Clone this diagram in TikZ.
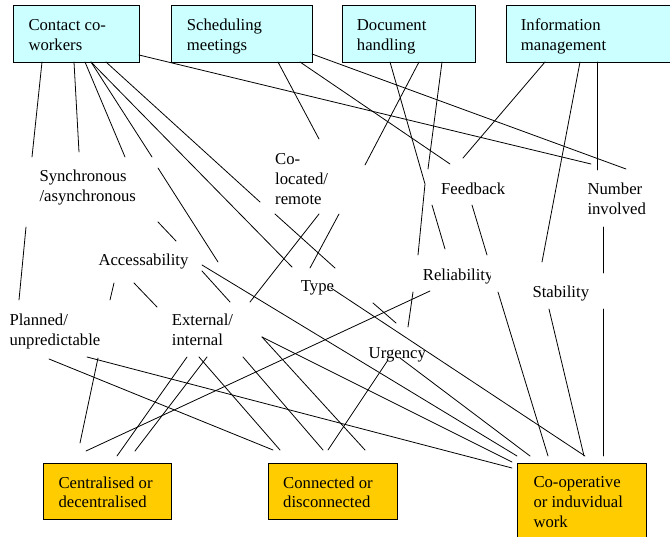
\documentclass[tikz,border=0pt]{standalone}
\usepackage{fontspec}
\setmainfont{Liberation Serif}
\newfontfamily\diagfont{Liberation Serif}
\usetikzlibrary{shadows}
\definecolor{topfill}{HTML}{CCFFFF}
\definecolor{botfill}{HTML}{FFCC00}
\newcommand\labtext[1]{\begin{tabular}[t]{@{}l@{}}#1\end{tabular}}
\newcommand\linkseg[3]{\coordinate (#1-a) at (#2); \coordinate (#1-b) at (#3); \draw[link] (#1-a) -- (#1-b);}
\begin{document}
\begin{tikzpicture}[x=1pt, y=-1pt,
  link/.style={line width=0.8pt, line cap=round},
  boxbase/.style={draw=black, line width=0.8pt, inner sep=0pt, anchor=north west,
    drop shadow={shadow xshift=1pt, shadow yshift=-1pt, fill=black!55, opacity=1}},
  topbox/.style={boxbase, fill=topfill, minimum height=57pt},
  botbox/.style={boxbase, fill=botfill},
  lab/.style={inner sep=0pt, anchor=base west, font=\diagfont\fontsize{16.7}{19.6}\selectfont}]
\useasboundingbox (0,0) rectangle (670,537);
% top boxes
\node[topbox, minimum width=126pt] (contact) at (13,5) {};
\node[topbox, minimum width=141pt] (sched) at (171,5) {};
\node[topbox, minimum width=133pt] (doc) at (342,5) {};
\node[topbox, minimum width=170pt] (info) at (506,5) {};
\node[lab] (contact-t) at ([shift={(15.3,25.7)}]contact.north west) {\labtext{Contact co-\\workers}};
\node[lab] (sched-t) at ([shift={(15.7,25.7)}]sched.north west) {\labtext{Scheduling\\meetings}};
\node[lab] (doc-t) at ([shift={(14.7,25.5)}]doc.north west) {\labtext{Document\\handling}};
\node[lab] (info-t) at ([shift={(14.7,25.5)}]info.north west) {\labtext{Information\\management}};
% bottom boxes
\node[botbox, minimum width=128pt, minimum height=56pt] (cent) at (43,463) {};
\node[botbox, minimum width=129pt, minimum height=56pt] (conn) at (268,463) {};
\node[botbox, minimum width=129pt, minimum height=90pt] (coop) at (517,463) {};
\node[lab] (cent-t) at ([shift={(15.3,25.3)}]cent.north west) {\labtext{Centralised or\\decentralised}};
\node[lab] (conn-t) at ([shift={(15,25.3)}]conn.north west) {\labtext{Connected or\\disconnected}};
\node[lab] (coop-t) at ([shift={(16.3,25)}]coop.north west) {\labtext{Co-operative\\or induvidual\\work}};
% free labels
\node[lab] (sync) at (39.3,182) {\labtext{Synchronous\\/asynchronous}};
\node[lab] (acc) at (98.3,266) {Accessability};
\node[lab] (plan) at (9.3,326) {\labtext{Planned/\\unpredictable}};
\node[lab] (ext) at (171.7,326) {\labtext{External/\\internal}};
\node[lab] (coloc) at (275,165) {\labtext{Co-\\located/\\remote}};
\node[lab] (type) at (300.7,292) {Type};
\node[lab] (feed) at (441,195) {Feedback};
\node[lab] (numb) at (587.3,195) {\labtext{Number\\involved}};
\begin{scope}
\clip (400,250) rectangle (490,300);
\node[lab] (rel) at (422.7,281) {Reliability};
\end{scope}
\node[lab] (stab) at (532.3,297.7) {Stability};
\node[lab] (urg) at (368.5,358.5) {Urgency};
% connectors from Contact co-workers
\linkseg{c1}{42,62}{32,157}
\linkseg{c2}{74,62}{79,152}
\linkseg{c3}{85,62}{125,157}
\linkseg{c4}{91,62}{152,157}
\linkseg{c5}{158,168}{218,262}
\linkseg{c6}{91,62}{292,267}
\linkseg{c7}{106,62}{260,202}
\linkseg{c8}{275,214}{335,268}
\linkseg{c9}{373,303}{396,323}
\linkseg{c10}{139,55}{591,164}
% Scheduling meetings
\linkseg{s1}{312,54}{626,169}
\linkseg{s2}{300,62}{450,164}
\linkseg{s3}{278,62}{319,139}
% Document handling
\coordinate (d1-a) at (390,62); \coordinate (d1-m) at (425,184); \coordinate (d1-b) at (418,255);
\draw[link] (d1-a) -- (d1-m) -- (d1-b);
\linkseg{d2}{419,62}{365,165}
\linkseg{d3}{339,214}{310,268}
\linkseg{d4}{442,62}{428,169}
% Information management
\linkseg{i1}{545,62}{463,158}
\linkseg{i2}{580,62}{542,262}
\linkseg{i3}{597,62}{597,170}
% Synchronous
\linkseg{y1}{26,227}{19,300}
\linkseg{y2}{158,222}{176,241}
% Accessability
\linkseg{a1}{114,283}{110,300}
\linkseg{a2}{134,283}{157,307}
\linkseg{a3}{202,265}{517,456}
\linkseg{a4}{202,271}{230,302}
% Feedback
\linkseg{f1}{432,205}{445,249}
\linkseg{f2}{472,205}{487,255}
% Number involved
\linkseg{n1}{603,227}{603,273}
\linkseg{n2}{603,309}{603,456}
% Reliability
\linkseg{r1}{413,292}{408,327}
\linkseg{r2}{430,291}{86,451}
\linkseg{r3}{498,292}{548,456}
% Stability
\linkseg{b1}{549,309}{584,456}
% Type
\linkseg{t1}{331,288}{585,456}
% Urgency
\linkseg{u1}{400,358}{530,456}
\linkseg{u2}{388,360}{328,450}
% Planned
\linkseg{p1}{49,359}{273,450}
\linkseg{p2}{87,357}{512,468}
\linkseg{p3}{98,358}{80,443}
% External/internal
\linkseg{e1}{187,357}{117,456}
\linkseg{e2}{207,357}{135,451}
\linkseg{e3}{250,302}{319,214}
\linkseg{e4}{199,357}{280,450}
\linkseg{e5}{243,357}{323,450}
\linkseg{e6}{262,337}{512,462}
\linkseg{e7}{262,337}{365,450}
\end{tikzpicture}
\end{document}
